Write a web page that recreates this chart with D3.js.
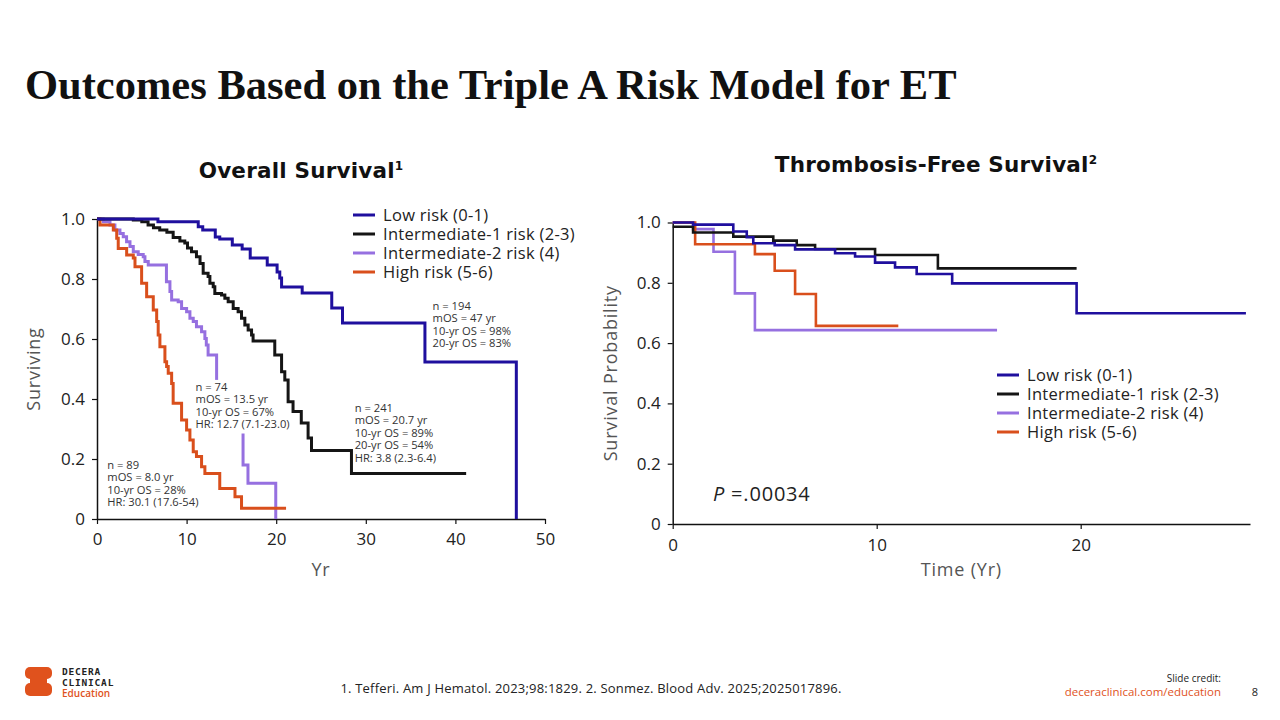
<!DOCTYPE html>
<html>
<head>
<meta charset="utf-8">
<script src="https://cdn.jsdelivr.net/npm/d3@7"></script>
<style>
  body { margin: 0; background: #fff; }
  svg { display: block; }
  text { font-family: "Open Sans", "Noto Sans", sans-serif; }
</style>
</head>
<body>
<script>
var w = 1280;
var h = 720;

// Overall survival (left) - [year, survival] steps
var osLow = [[0,1],[6.8,0.991],[11.3,0.974],[11.8,0.963],[13.2,0.94],[13.7,0.933],[15.1,0.913],
  [16.2,0.90],[17.1,0.87],[19.0,0.847],[20.1,0.823],[20.4,0.803],[20.6,0.773],[22.9,0.753],
  [26.2,0.703],[27.4,0.653],[36.6,0.523],[46.8,0]];
var osInt1 = [[0,1],[4.05,0.997],[5.0,0.991],[5.7,0.98],[6.3,0.971],[7.0,0.963],[7.8,0.956],
  [8.5,0.938],[9.25,0.927],[9.8,0.92],[10.1,0.903],[10.55,0.891],[11.1,0.874],[11.5,0.852],
  [11.85,0.819],[12.4,0.808],[12.6,0.786],[12.97,0.774],[13.15,0.752],[13.9,0.747],[14.27,0.736],
  [14.64,0.724],[15.2,0.702],[15.75,0.691],[16.13,0.669],[16.5,0.647],[16.87,0.63],[17.25,0.613],
  [17.42,0.593],[19.84,0.547],[20.6,0.491],[20.96,0.463],[21.33,0.391],[21.88,0.358],[22.8,0.32],
  [23.56,0.27],[23.94,0.228],[28.4,0.152],[41.2,0.152]];
var osInt2 = [[0,1],[0.7,0.991],[1.45,0.98],[2.0,0.963],[2.56,0.952],[2.93,0.941],[3.3,0.924],
  [3.68,0.908],[4.05,0.891],[4.6,0.882],[5.16,0.874],[5.35,0.858],[5.72,0.847],[7.75,0.791],
  [8.14,0.758],[8.33,0.73],[9.06,0.724],[9.44,0.702],[10.0,0.691],[10.37,0.669],[10.74,0.658],
  [11.1,0.641],[11.67,0.624],[12.04,0.602],[12.2,0.58],[12.4,0.547],[13.35,0.30],[16.3,0.18],
  [16.85,0.119],[19.95,0]];
var osHigh = [[0,1],[0.33,0.98],[1.82,0.963],[2.2,0.936],[2.37,0.902],[3.31,0.88],[4.05,0.87],
  [4.24,0.841],[4.98,0.786],[5.54,0.741],[6.28,0.697],[6.66,0.658],[6.83,0.613],[7.02,0.574],
  [7.58,0.524],[7.77,0.508],[7.95,0.486],[8.33,0.452],[8.5,0.386],[9.44,0.33],[10.0,0.297],
  [10.37,0.263],[10.74,0.224],[11.1,0.208],[11.67,0.174],[12.04,0.152],[13.7,0.102],[15.4,0.074],
  [16.13,0.036],[21.1,0.036]];

// Thrombosis-free survival (right)
var tfsLow = [[0,1],[1.0,0.993],[2.97,0.97],[3.63,0.951],[3.95,0.931],[5.0,0.925],[6.0,0.911],
  [7.96,0.898],[8.94,0.887],[9.92,0.867],[10.9,0.851],[11.96,0.829],[13.7,0.798],[19.8,0.699],[28.1,0.699]];
var tfsInt1 = [[0,0.986],[1.0,0.967],[2.97,0.953],[4.93,0.94],[6.08,0.925],[6.98,0.912],
  [9.92,0.892],[13.0,0.848],[19.8,0.848]];
var tfsInt2 = [[0,1],[1.0,0.978],[2.0,0.903],[3.05,0.765],[4.03,0.643],[15.9,0.643]];
var tfsHigh = [[0,1],[1.1,0.928],[4.03,0.895],[5.0,0.84],[6.0,0.763],[7.02,0.657],[11.06,0.657]];

var groups = ["Low risk (0-1)", "Intermediate-1 risk (2-3)", "Intermediate-2 risk (4)", "High risk (5-6)"];
var colors = ["#1f0f9e", "#151515", "#9670e0", "#d94f1c"];
var yTicks = [0, 0.2, 0.4, 0.6, 0.8, 1.0];
var osXTicks = [0, 10, 20, 30, 40, 50];
var tfsXTicks = [0, 10, 20];

var osNotes = [
  {x: 37.45, y: 0.697, lines: ["n = 194", "mOS = 47 yr", "10-yr OS = 98%", "20-yr OS = 83%"]},
  {x: 28.76, y: 0.357, lines: ["n = 241", "mOS = 20.7 yr", "10-yr OS = 89%", "20-yr OS = 54%", "HR: 3.8 (2.3-6.4)"]},
  {x: 11.0, y: 0.427, lines: ["n = 74", "mOS = 13.5 yr", "10-yr OS = 67%", "HR: 12.7 (7.1-23.0)"], bg: true},
  {x: 1.15, y: 0.167, lines: ["n = 89", "mOS = 8.0 yr", "10-yr OS = 28%", "HR: 30.1 (17.6-54)"]}
];

var svg = d3.select("body").append("svg").attr("width", w).attr("height", h);

// title
svg.append("text")
  .attr("x", 25).attr("y", 99)
  .style("font-family", "'Liberation Serif', 'Times New Roman', serif")
  .style("font-weight", "bold")
  .style("font-size", "42.5px")
  .attr("fill", "#111")
  .text("Outcomes Based on the Triple A Risk Model for ET");

function subtitle(x, y, label) {
  var t = svg.append("text").attr("x", x).attr("y", y).attr("text-anchor", "middle")
    .style("font-family", "'DejaVu Sans', sans-serif").attr("letter-spacing", 0.2)
    .style("font-weight", "bold").style("font-size", "21.5px").attr("fill", "#111");
  t.append("tspan").text(label[0]);
  t.append("tspan").attr("dy", -8).style("font-size", "12px").text(label[1]);
}
subtitle(301, 178, ["Overall Survival", "1"]);
subtitle(936, 172, ["Thrombosis-Free Survival", "2"]);

function fmt(d) { return d === 0 ? "0" : d3.format(".1f")(d); }

function drawAxes(x, y, xt, xLabel, yLabel, yLabelX, xLabelY, xPad) {
  var gx = svg.append("g").attr("transform", "translate(0," + y.range()[0] + ")")
    .call(d3.axisBottom(x).tickValues(xt).tickSize(5).tickSizeOuter(0).tickPadding(xPad));
  var gy = svg.append("g").attr("transform", "translate(" + x.range()[0] + ",0)")
    .call(d3.axisLeft(y).tickValues(yTicks).tickFormat(fmt).tickSize(5).tickSizeOuter(0).tickPadding(7));
  [gx, gy].forEach(function(g) {
    g.select(".domain").attr("stroke", "#111").attr("stroke-width", 1.5);
    g.selectAll(".tick line").attr("stroke", "#111").attr("stroke-width", 1.2);
    g.selectAll(".tick text").style("font-size", "17px").attr("fill", "#222")
      .style("font-family", "'Open Sans', sans-serif");
  });
  svg.append("text").attr("x", (x.range()[0] + x.range()[1]) / 2).attr("y", xLabelY)
    .attr("text-anchor", "middle").style("font-size", "18px").attr("letter-spacing", 0.8)
    .attr("fill", "#555").text(xLabel);
  var cy = (y.range()[0] + y.range()[1]) / 2;
  svg.append("text").attr("transform", "translate(" + yLabelX + "," + cy + ") rotate(-90)")
    .attr("text-anchor", "middle").style("font-size", "18px").attr("letter-spacing", 0.8)
    .attr("fill", "#555").text(yLabel);
}

function drawCurves(x, y, series, width) {
  var line = d3.line().x(function(d) { return x(d[0]); }).y(function(d) { return y(d[1]); })
    .curve(d3.curveStepAfter);
  svg.append("g").selectAll("path")
    .data(series)
    .enter()
    .append("path")
    .attr("d", function(d) { return line(d.pts); })
    .attr("fill", "none")
    .attr("stroke", function(d) { return colors[d.k]; })
    .attr("stroke-width", width);
}

function drawLegend(x0, y0, step) {
  var g = svg.append("g");
  groups.forEach(function(name, i) {
    g.append("line").attr("x1", x0).attr("x2", x0 + 22)
      .attr("y1", y0 + i * step).attr("y2", y0 + i * step)
      .attr("stroke", colors[i]).attr("stroke-width", 3);
    g.append("text").attr("x", x0 + 30).attr("y", y0 + i * step + 6)
      .style("font-size", "16.5px").attr("letter-spacing", 0.3).attr("fill", "#222").text(name);
  });
}

// ---- left chart
var xL = d3.scaleLinear().domain([0, 50]).range([97, 545]);
var yL = d3.scaleLinear().domain([0, 1]).range([519, 219]);
drawAxes(xL, yL, osXTicks, "Yr", "Surviving", 40, 576, 9);
drawCurves(xL, yL, [
  {k: 2, pts: osInt2}, {k: 3, pts: osHigh}, {k: 1, pts: osInt1}, {k: 0, pts: osLow}
], 3);

osNotes.forEach(function(n) {
  var g = svg.append("g");
  var tx = xL(n.x), ty = yL(n.y);
  if (n.bg) {
    g.append("rect").attr("x", tx - 2).attr("y", ty - 11)
      .attr("width", 89).attr("height", n.lines.length * 12.4 + 4).attr("fill", "#fff");
  }
  n.lines.forEach(function(l, i) {
    g.append("text").attr("x", tx).attr("y", ty + i * 12.4)
      .style("font-size", "11.2px").attr("fill", "#333").text(l);
  });
});
drawLegend(353, 215, 19);

// ---- right chart
var xR = d3.scaleLinear().domain([0, 28.3]).range([672.7, 1250]);
var yR = d3.scaleLinear().domain([0, 1]).range([524, 222.5]);
drawAxes(xR, yR, tfsXTicks, "Time (Yr)", "Survival Probability", 617, 576, 10);
drawCurves(xR, yR, [
  {k: 2, pts: tfsInt2}, {k: 3, pts: tfsHigh}, {k: 1, pts: tfsInt1}, {k: 0, pts: tfsLow}
], 2.6);
drawLegend(997, 375, 19);

var pv = svg.append("text").attr("x", 713).attr("y", 501).style("font-size", "20px")
  .attr("letter-spacing", 0.8).attr("fill", "#222");
pv.append("tspan").style("font-style", "italic").text("P");
pv.append("tspan").text(" =.00034");

// ---- footer
var logo = svg.append("g").attr("fill", "#e0521d");
logo.append("rect").attr("x", 25).attr("y", 667).attr("width", 27).attr("height", 12).attr("rx", 5);
logo.append("rect").attr("x", 30).attr("y", 676).attr("width", 17).attr("height", 10);
logo.append("rect").attr("x", 25).attr("y", 683).attr("width", 27).attr("height", 13).attr("rx", 5);
svg.append("text").attr("x", 62).attr("y", 675).style("font-family", "'DejaVu Sans Mono', monospace")
  .style("font-weight", "bold").style("font-size", "9.5px").attr("fill", "#222").attr("letter-spacing", 0.8).text("DECERA");
svg.append("text").attr("x", 62).attr("y", 686).style("font-family", "'DejaVu Sans Mono', monospace")
  .style("font-weight", "bold").style("font-size", "9.5px").attr("fill", "#222").attr("letter-spacing", 0.8).text("CLINICAL");
svg.append("text").attr("x", 62).attr("y", 697).style("font-size", "10px").style("font-weight", "600")
  .attr("fill", "#e0521d").text("Education");

svg.append("text").attr("x", 591).attr("y", 693).attr("text-anchor", "middle")
  .style("font-size", "13px").attr("letter-spacing", 0.2).attr("fill", "#222")
  .text("1. Tefferi. Am J Hematol. 2023;98:1829. 2. Sonmez. Blood Adv. 2025;2025017896.");
svg.append("text").attr("x", 1221).attr("y", 682).attr("text-anchor", "end")
  .style("font-size", "10px").attr("fill", "#222").text("Slide credit:");
svg.append("text").attr("x", 1221).attr("y", 696).attr("text-anchor", "end")
  .style("font-size", "11.5px").attr("fill", "#e0521d").text("deceraclinical.com/education");
svg.append("text").attr("x", 1255).attr("y", 696).attr("text-anchor", "middle")
  .style("font-size", "11px").attr("fill", "#222").text("8");
</script>
</body>
</html>
